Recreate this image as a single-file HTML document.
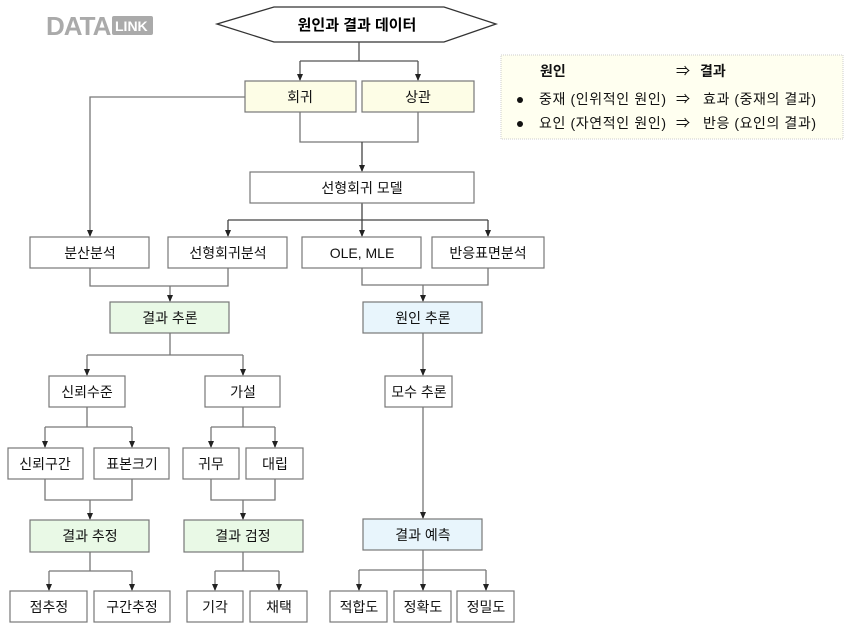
<!DOCTYPE html>
<html><head><meta charset="utf-8"><style>
body{margin:0;background:#fff;width:853px;height:630px;overflow:hidden;font-family:"Liberation Sans","Noto Sans CJK KR",sans-serif;}
</style></head><body>
<svg width="853" height="630" xmlns="http://www.w3.org/2000/svg" font-family="Liberation Sans, Noto Sans CJK KR, sans-serif" font-size="14">
<g font-weight="bold" fill="#aaa">
<text x="46" y="35" font-size="26" letter-spacing="-1">DATA</text>
<rect x="112" y="16" width="41" height="19" rx="2" fill="#aaa"/>
<text x="115" y="31" font-size="14" fill="#fff">LINK</text>
</g>
<polygon points="217,24 274,7 444,7 496,24 444,42 274,42" fill="#fff" stroke="#333" stroke-width="1.3"/>
<text x="357" y="30" text-anchor="middle" font-size="15" font-weight="bold">원인과 결과 데이터</text>
<g fill="none" stroke="#777" stroke-width="1.3">
<path d="M359,42V61M300,61H418M300,61V80M418,61V80" stroke="#555"/>
<path d="M245,97H90V236"/>
<path d="M300,112V142H418V112"/>
<path d="M362,142V171M362,203V220M228,220H488M228,220V236M362,220V236M488,220V236" stroke="#444"/>
<path d="M90,268V286H228V268M170,286V301"/>
<path d="M170,333V355M87,355H243M87,355V375M243,355V375"/>
<path d="M87,407V427M45,427H132M45,427V447M132,427V447"/>
<path d="M243,407V427M211,427H275M211,427V447M275,427V447"/>
<path d="M45,479V500H132V479M90,500V519"/>
<path d="M211,479V500H275V479M243,500V519"/>
<path d="M90,552V571M49,571H132M49,571V590M132,571V590"/>
<path d="M243,552V571M215,571H279M215,571V590M279,571V590"/>
<path d="M362,268V285H488V268M423,285V301"/>
<path d="M423,333V375M423,407V518"/>
<path d="M423,550V570M359,570H486M359,570V590M423,570V590M486,570V590"/>
</g>
<g stroke="none" fill="#222">
<path d="M297,74h6l-3,7z M415,74h6l-3,7z M87,230h6l-3,7z M359,165h6l-3,7z M225,230h6l-3,7z M359,230h6l-3,7z M485,230h6l-3,7z M167,295h6l-3,7z M84,369h6l-3,7z M240,369h6l-3,7z M42,441h6l-3,7z M129,441h6l-3,7z M208,441h6l-3,7z M272,441h6l-3,7z M87,513h6l-3,7z M240,513h6l-3,7z M46,584h6l-3,7z M129,584h6l-3,7z M212,584h6l-3,7z M276,584h6l-3,7z M420,295h6l-3,7z M420,369h6l-3,7z M420,512h6l-3,7z M356,584h6l-3,7z M420,584h6l-3,7z M483,584h6l-3,7z"/>
</g>
<g stroke="#777" stroke-width="1.2">
<rect x="245" y="81" width="111" height="31" fill="#fdfde6"/>
<rect x="362" y="81" width="112" height="31" fill="#fdfde6"/>
<rect x="250" y="172" width="224" height="31" fill="#fff"/>
<rect x="30" y="237" width="119" height="31" fill="#fff"/>
<rect x="168" y="237" width="119" height="31" fill="#fff"/>
<rect x="302" y="237" width="119" height="31" fill="#fff"/>
<rect x="432" y="237" width="112" height="31" fill="#fff"/>
<rect x="110" y="302" width="119" height="31" fill="#e9f9e6"/>
<rect x="363" y="302" width="119" height="31" fill="#e8f5fc"/>
<rect x="49" y="376" width="76" height="31" fill="#fff"/>
<rect x="205" y="376" width="75" height="31" fill="#fff"/>
<rect x="385" y="376" width="67" height="31" fill="#fff"/>
<rect x="8" y="448" width="75" height="31" fill="#fff"/>
<rect x="94" y="448" width="75" height="31" fill="#fff"/>
<rect x="183" y="448" width="56" height="31" fill="#fff"/>
<rect x="246" y="448" width="57" height="31" fill="#fff"/>
<rect x="30" y="520" width="119" height="32" fill="#e9f9e6"/>
<rect x="184" y="520" width="119" height="32" fill="#e9f9e6"/>
<rect x="363" y="519" width="119" height="31" fill="#e8f5fc"/>
<rect x="10" y="591" width="77" height="31" fill="#fff"/>
<rect x="94" y="591" width="76" height="31" fill="#fff"/>
<rect x="187" y="591" width="56" height="31" fill="#fff"/>
<rect x="250" y="591" width="57" height="31" fill="#fff"/>
<rect x="330" y="591" width="57" height="31" fill="#fff"/>
<rect x="394" y="591" width="57" height="31" fill="#fff"/>
<rect x="457" y="591" width="57" height="31" fill="#fff"/>
</g>
<g text-anchor="middle" fill="#111">
<text x="300" y="102">회귀</text><text x="418" y="102">상관</text>
<text x="362" y="193">선형회귀 모델</text>
<text x="90" y="258">분산분석</text><text x="228" y="258">선형회귀분석</text>
<text x="362" y="258">OLE, MLE</text><text x="488" y="258">반응표면분석</text>
<text x="170" y="323">결과 추론</text><text x="423" y="323">원인 추론</text>
<text x="87" y="397">신뢰수준</text><text x="243" y="397">가설</text><text x="419" y="397">모수 추론</text>
<text x="45" y="469">신뢰구간</text><text x="132" y="469">표본크기</text>
<text x="211" y="469">귀무</text><text x="275" y="469">대립</text>
<text x="90" y="541">결과 추정</text><text x="243" y="541">결과 검정</text><text x="423" y="540">결과 예측</text>
<text x="49" y="612">점추정</text><text x="132" y="612">구간추정</text>
<text x="215" y="612">기각</text><text x="279" y="612">채택</text>
<text x="359" y="612">적합도</text><text x="423" y="612">정확도</text><text x="486" y="612">정밀도</text>
</g>
<rect x="501" y="55" width="342" height="84" fill="#fffff0" stroke="#ccc" stroke-dasharray="1,1"/>
<g fill="#111">
<text x="540" y="76" font-weight="bold" font-size="14">원인</text>
<text x="676" y="76">⇒</text>
<text x="700" y="76" font-weight="bold" font-size="14">결과</text>
<circle cx="520" cy="100" r="3"/><circle cx="520" cy="124" r="3"/>
<text x="539" y="104" textLength="127" lengthAdjust="spacing">중재 (인위적인 원인)</text><text x="676" y="104">⇒</text><text x="703" y="104" textLength="113" lengthAdjust="spacing">효과 (중재의 결과)</text>
<text x="539" y="128" textLength="127" lengthAdjust="spacing">요인 (자연적인 원인)</text><text x="676" y="128">⇒</text><text x="703" y="128" textLength="113" lengthAdjust="spacing">반응 (요인의 결과)</text>
</g>
</svg>
</body></html>
